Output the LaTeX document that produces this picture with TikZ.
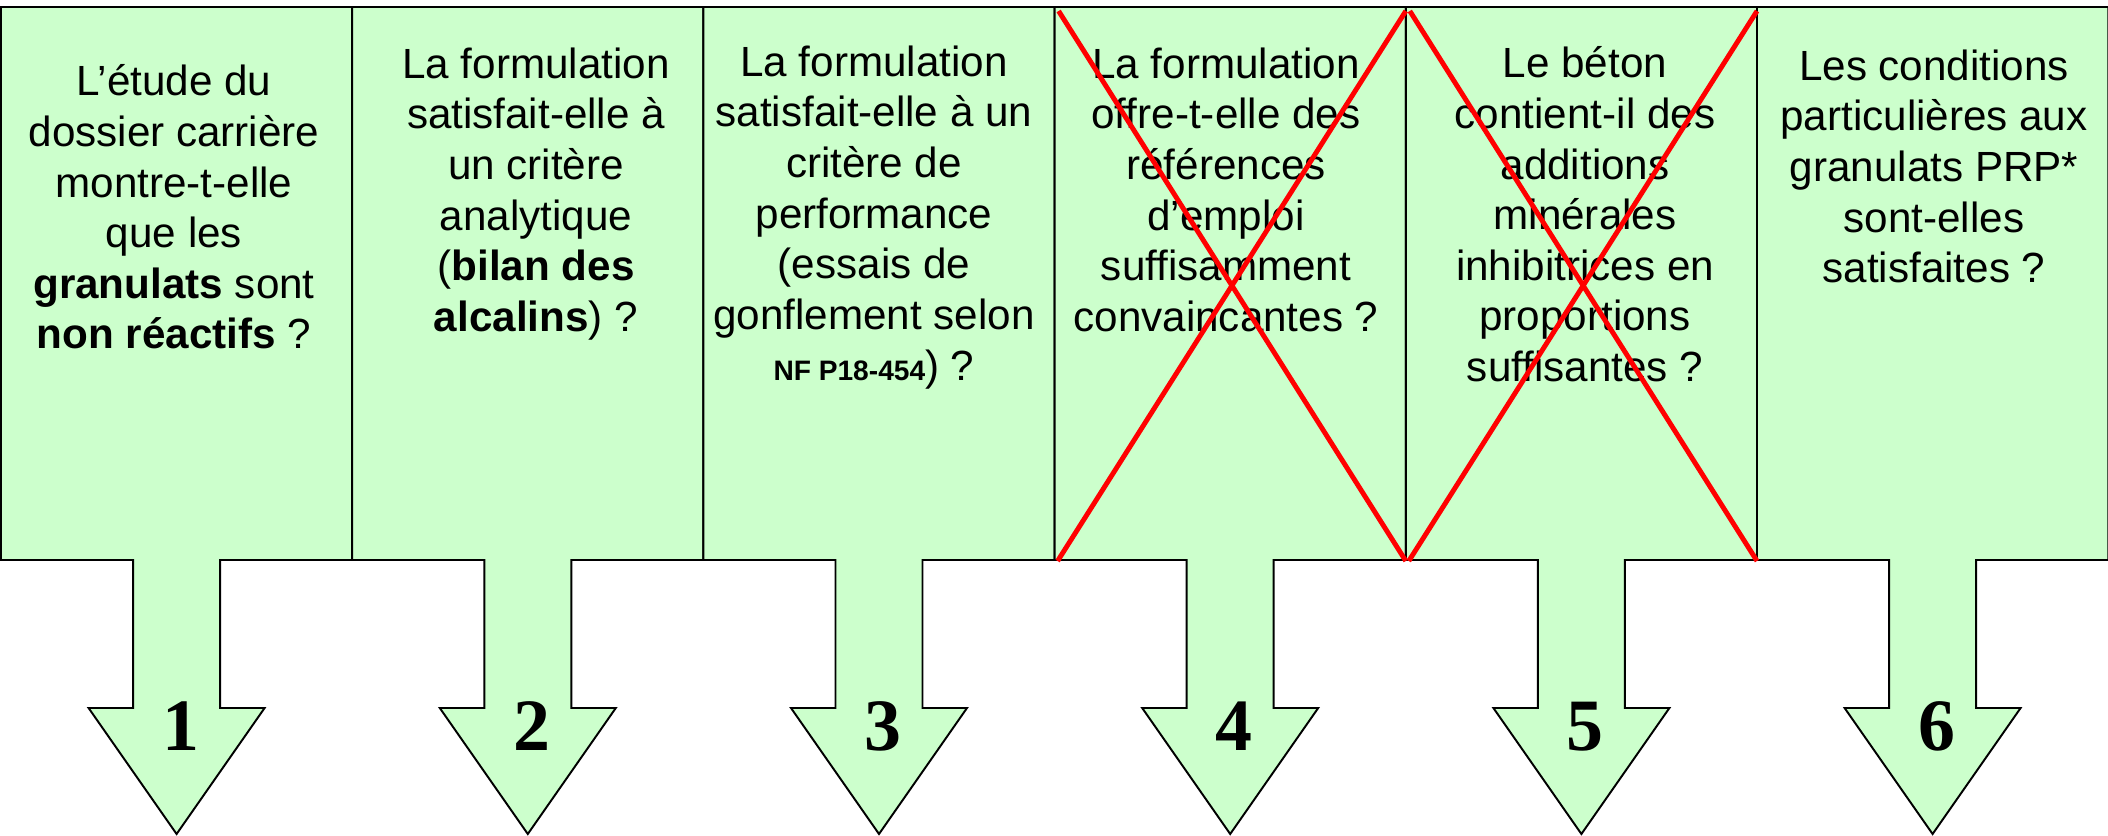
\documentclass[tikz,border=0pt]{standalone}
\usepackage{fontspec}
\setmainfont{Liberation Sans}
\newfontfamily\numfont{Liberation Serif}
\usepackage{tikz}
\definecolor{panelgreen}{RGB}{204,255,204}

\begin{document}
\begin{tikzpicture}[
    x=0.01cm, y=-0.01cm,
    panel/.style={draw=black, line width=0.55pt, fill=panelgreen, line join=miter},
    question/.style={align=center, anchor=north, inner sep=0pt, font=\fontsize{12}{14.4}\selectfont},
    number/.style={anchor=base, inner sep=0pt, font=\numfont\bfseries\fontsize{21}{24}\selectfont},
    cross/.style={draw=red, line width=1.4pt}
]

% Sizes
\def\boxw{351.2}
\def\ytop{7}
\def\ybot{560}
\def\yhead{708}
\def\ytip{834}
\def\stem{43.5}
\def\head{88}

\useasboundingbox (0,0) rectangle (2108,836);

% ---------- Panels with arrows ----------
\foreach \i in {1,...,6} {
    \pgfmathsetmacro{\xl}{1+(\i-1)*\boxw}
    \pgfmathsetmacro{\xr}{\xl+\boxw}
    \pgfmathsetmacro{\xc}{\xl+\boxw/2}
    \coordinate (P\i-nw) at (\xl+4,11);
    \coordinate (P\i-ne) at (\xr,11);
    \coordinate (P\i-sw) at (\xl+3,561);
    \coordinate (P\i-se) at (\xr,561);
    \draw[panel] (\xl,\ytop) -- (\xr,\ytop) -- (\xr,\ybot)
        -- (\xc+\stem,\ybot) -- (\xc+\stem,\yhead) -- (\xc+\head,\yhead)
        -- (\xc,\ytip)
        -- (\xc-\head,\yhead) -- (\xc-\stem,\yhead) -- (\xc-\stem,\ybot)
        -- (\xl,\ybot) -- cycle;
    \node[number] (N\i) at (\xc+4,750) {\i};
}

% ---------- Questions ----------
\node[question] (Q1) at (174,64) {L’étude du\\dossier carrière\\montre-t-elle\\que les\\\textbf{granulats} sont\\\textbf{non réactifs} ?};
\node[question] (Q2) at (536,47) {La formulation\\satisfait-elle à\\un critère\\analytique\\(\textbf{bilan des}\\\textbf{alcalins}) ?};
\node[question] (Q3) at (874,45) {La formulation\\satisfait-elle à un\\critère de\\performance\\(essais de\\gonflement selon\\{\fontsize{8}{9}\selectfont\bfseries NF P18-454}) ?};
\node[question] (Q4) at (1226,47) {La formulation\\offre-t-elle des\\références\\d’emploi\\suffisamment\\convaincantes ?};
\node[question] (Q5) at (1585,46) {Le béton\\contient-il des\\additions\\minérales\\inhibitrices en\\proportions\\suffisantes ?};
\node[question] (Q6) at (1934,49) {Les conditions\\particulières aux\\granulats PRP*\\sont-elles\hspace*{0.4em}\\satisfaites ?};

% ---------- Crossed out ----------
\foreach \i in {4,5} {
    \draw[cross] (P\i-nw) -- (P\i-se);
    \draw[cross] (P\i-ne) -- (P\i-sw);
}

\end{tikzpicture}
\end{document}
